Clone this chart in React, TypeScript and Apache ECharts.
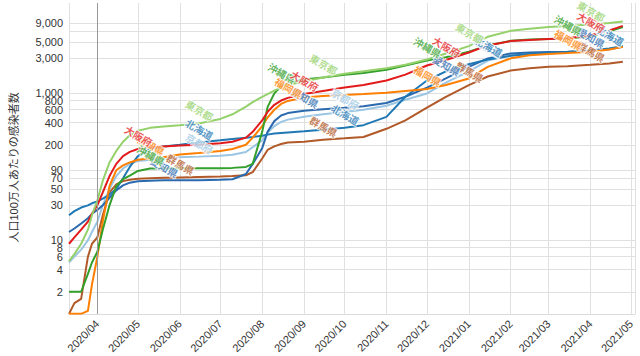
import React, { useEffect, useRef } from 'react';
import * as echarts from 'echarts';

const dates = ['2020-03-11','2020-03-15','2020-03-20','2020-03-25','2020-03-28','2020-04-01','2020-04-05','2020-04-10','2020-04-15','2020-04-20','2020-04-25','2020-05-01','2020-05-10','2020-05-20','2020-06-01','2020-06-15','2020-07-01','2020-07-10','2020-07-20','2020-07-25','2020-08-01','2020-08-05','2020-08-10','2020-08-15','2020-08-20','2020-09-01','2020-09-15','2020-10-01','2020-10-15','2020-11-01','2020-11-15','2020-12-01','2020-12-15','2021-01-01','2021-01-15','2021-02-01','2021-02-15','2021-03-01','2021-03-15','2021-04-01','2021-04-15','2021-04-25'];

const tokyo = [5.2, 6.5, 9, 14, 22, 35, 65, 115, 165, 220, 270, 310, 340, 355, 370, 390, 450, 520, 660, 760, 900, 980, 1090, 1200, 1300, 1450, 1650, 1850, 2000, 2200, 2450, 2900, 3500, 4400, 5900, 7100, 7600, 8000, 8300, 8700, 9100, 9500];
const osaka = [9, 11, 14, 18, 23, 30, 45, 75, 110, 140, 160, 175, 185, 190, 195, 200, 210, 220, 250, 300, 430, 560, 700, 800, 870, 980, 1080, 1200, 1300, 1500, 1800, 2400, 2850, 3600, 4500, 5150, 5350, 5500, 5650, 6200, 7200, 8300];
const okinawa = [2, 2, 2, 3.5, 5, 7, 14, 30, 55, 68, 76, 88, 95, 95, 96, 96, 96, 97, 100, 110, 300, 650, 1000, 1250, 1380, 1550, 1650, 1800, 1900, 2100, 2400, 2800, 3100, 3700, 4500, 5200, 5400, 5500, 5600, 6000, 7000, 8000];
const hokkaido = [22, 25, 28, 30, 32, 34, 37, 42, 50, 70, 100, 140, 175, 190, 200, 215, 230, 240, 250, 255, 265, 275, 285, 290, 295, 305, 320, 340, 370, 480, 900, 1500, 2000, 2500, 2900, 3250, 3450, 3550, 3650, 3850, 4100, 4400];
const aichi = [13, 14.5, 17, 20, 23, 26, 30, 38, 48, 56, 61, 64, 65, 66, 66, 66, 67, 68, 80, 110, 180, 300, 420, 500, 540, 580, 610, 640, 670, 740, 900, 1200, 1600, 2300, 3000, 3500, 3600, 3650, 3700, 3800, 4000, 4300];
const kyoto = [5, 6, 7.5, 10, 13, 18, 30, 50, 75, 95, 110, 120, 125, 130, 135, 138, 142, 146, 160, 185, 230, 290, 360, 410, 440, 480, 520, 560, 600, 680, 820, 1000, 1400, 2000, 2800, 3300, 3450, 3550, 3650, 3800, 4050, 4400];
const fukuoka = [1, 1, 1, 1.1, 2.5, 6, 18, 55, 90, 105, 115, 125, 130, 135, 148, 155, 165, 175, 200, 250, 360, 470, 600, 720, 790, 880, 920, 950, 980, 1020, 1080, 1150, 1300, 1600, 2300, 3000, 3300, 3450, 3550, 3700, 3950, 4300];
const gunma = [1, 1.4, 1.6, 6, 9, 11, 22, 45, 58, 64, 67, 69, 70, 71, 72, 73, 74, 75, 77, 85, 130, 170, 190, 205, 215, 220, 235, 245, 255, 330, 430, 640, 900, 1300, 1700, 2050, 2200, 2300, 2350, 2450, 2550, 2700];

const seriesNames = ['群馬県', '京都府', '愛知県', '北海道', '福岡県', '沖縄県', '大阪府', '東京都'];
const seriesValues = [gunma, kyoto, aichi, hokkaido, fukuoka, okinawa, osaka, tokyo];
const seriesColors = ['#b15928', '#9ac6e3', '#2b6aae', '#1f78b4', '#ff7f00', '#33a02c', '#e31a1c', '#95d16a'];
// indices into dates where each series carries its name label
const labelIndices = [
  [14, 26, 33, 39],
  [15, 27, 34, 40],
  [13, 25, 32, 39],
  [15, 27, 34, 40],
  [12, 24, 31, 38],
  [12, 23, 31, 38],
  [11, 25, 32, 39],
  [15, 26, 33, 39],
];

const yTicks = [2, 4, 6, 8, 10, 30, 50, 70, 90, 200, 400, 600, 800, 1000, 3000, 5000, 7000, 9000];
const yMin = 1;
const yMax = 17000;
const xMin = '2020-03-11';
const xMax = '2021-05-04';
const baselineDate = '2020-04-01';
const yAxisTitle = '人口100万人あたりの感染者数';

const FONT = '"Liberation Sans", Arial, "Noto Sans CJK JP", sans-serif';

export default function App() {
  const ref = useRef<HTMLDivElement>(null);
  useEffect(() => {
    const chart = echarts.init(ref.current!, null, { renderer: 'svg' });
    const series: any[] = seriesNames.map((name, s) => {
      const vals = seriesValues[s];
      const color = seriesColors[s];
      const item: any = {
        name,
        type: 'line',
        showSymbol: false,
        symbol: 'none',
        lineStyle: { width: 2, color },
        itemStyle: { color },
        data: dates.map((d, i) => [d, vals[i]]),
        markPoint: {
          silent: true,
          symbol: 'circle',
          symbolSize: 1,
          itemStyle: { color: 'rgba(0,0,0,0)' },
          label: {
            show: true,
            formatter: name,
            rotate: -30,
            offset: [-6, -11],
            color,
            opacity: 0.75,
            fontSize: 10,
            fontWeight: 'bold',
            fontFamily: FONT,
            textBorderColor: '#fff',
            textBorderWidth: 2,
          },
          data: labelIndices[s].map((i) => ({ coord: [dates[i], vals[i]] })),
        },
      };
      if (s === 0) {
        item.markLine = {
          silent: true,
          symbol: ['none', 'none'],
          label: { show: false },
          lineStyle: { color: '#999', type: 'solid', width: 1 },
          data: [{ xAxis: baselineDate }],
        };
      }
      return item;
    });

    chart.setOption({
      animation: false,
      backgroundColor: '#fff',
      textStyle: { fontFamily: FONT },
      grid: { left: 68, right: 5, top: 3, bottom: 37.5 },
      xAxis: {
        type: 'time',
        min: xMin,
        max: xMax,
        splitNumber: 14,
        minInterval: 28 * 86400000,
        maxInterval: 31 * 86400000,
        axisLine: { show: true, lineStyle: { color: '#dcdcdc' } },
        axisTick: { show: false },
        splitLine: { show: true, lineStyle: { color: '#e0e0e0', width: 1 } },
        axisLabel: {
          rotate: 45,
          fontSize: 11,
          color: '#333',
          margin: 8,
          fontFamily: FONT,
          formatter: (v: number) => {
            const d = new Date(v);
            const m = d.getMonth() + 1;
            return d.getFullYear() + '/' + (m < 10 ? '0' + m : '' + m);
          },
        },
      },
      yAxis: {
        type: 'log',
        logBase: 10,
        min: yMin,
        max: yMax,
        name: yAxisTitle,
        nameLocation: 'middle',
        nameGap: 50,
        nameRotate: 90,
        nameTextStyle: { fontSize: 11, color: '#333', fontFamily: FONT, padding: [0, 18, 0, 0] },
        axisLine: { show: false },
        axisTick: { show: false, customValues: yTicks },
        splitLine: { show: true, lineStyle: { color: '#e0e0e0', width: 1 } },
        axisLabel: {
          customValues: yTicks,
          showMinLabel: true,
          showMaxLabel: true,
          hideOverlap: false,
          fontSize: 11,
          color: '#333',
          margin: 6,
          fontFamily: FONT,
          formatter: (v: number) => Math.round(v).toLocaleString('en-US'),
        },
      },
      series,
    });
    return () => chart.dispose();
  }, []);
  return <div ref={ref} style={{ position: 'fixed', left: 0, top: 0, width: 640, height: 356 }} />;
}
